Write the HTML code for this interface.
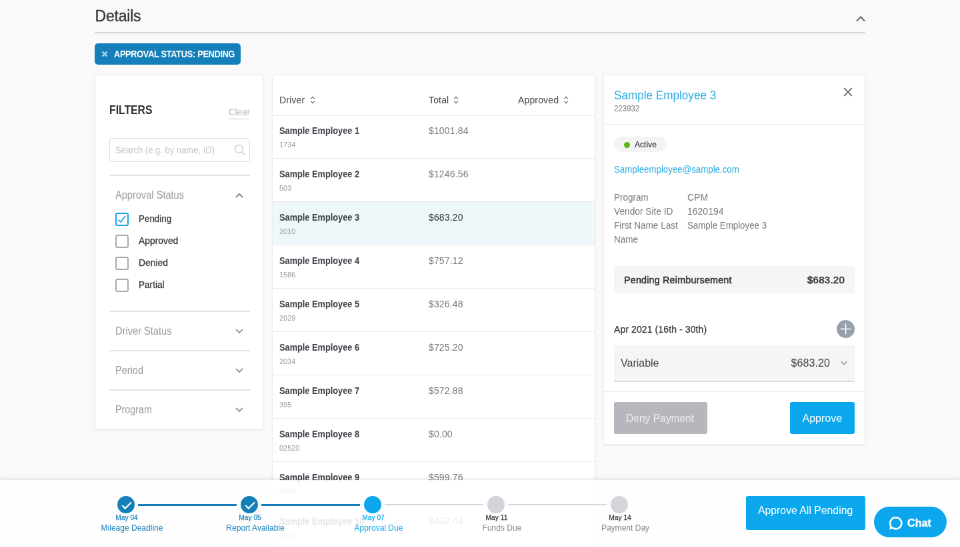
<!DOCTYPE html>
<html lang="en">
<head>
<meta charset="utf-8">
<title>Details</title>
<style>
*{box-sizing:border-box;margin:0;padding:0}
html,body{width:960px;height:547px;overflow:hidden;background:#f9f9f9}
body{font-family:"Liberation Sans",sans-serif;color:#333}
#root{position:absolute;left:0;top:0;width:1440px;height:821px;transform:scale(0.6666667);transform-origin:0 0;background:#f9f9f9;overflow:hidden;will-change:transform}
.abs{position:absolute}
.t{white-space:nowrap}
.rule{left:142px;top:47.5px;width:1156px;height:2.5px;background:#d6d6d6}
.chip{left:142px;top:65px;width:218.5px;height:32px;border-radius:5px;background:#157fba}
.panel{background:#fff;border:1px solid #ececec;border-radius:3px;box-shadow:0 1px 3px rgba(0,0,0,0.06)}
#filters{left:142px;top:112px;width:253px;height:532px}
.search{left:20.5px;top:94px;width:211px;height:36px;border:1px solid #ddd;border-radius:4px}
.sep{left:20.5px;width:211px;height:2px;background:#e3e3e3}
.cb{left:30px;width:20px;height:20px;border:2px solid #aaa;border-radius:3px;background:#fff}
.cb.on{border-color:#1da1f2}
#table{left:408px;top:112px;width:485px;height:720px;border-radius:3px 3px 0 0}
.row{left:0;width:483px;height:65px;border-top:1px solid #e8e8e8}
.row.sel{background:#eef8fb}
#detail{left:905px;top:112px;width:392.5px;height:555px}
.hr{left:0;width:391px;height:1px;background:#e8e8e8}
.pill{left:15px;top:92px;width:79px;height:23px;border-radius:12px;background:#f4f4f4}
.pill i{position:absolute;left:14.5px;top:7.5px;width:9px;height:9px;border-radius:50%;background:#5cb811}
.gbox{left:15px;width:361px;background:#f5f5f5}
.btn{border-radius:3px}
.tl-c{width:26px;height:26px;border-radius:50%;top:24.5px}
.tl-l{height:3px;top:36px}
#footer{left:0;top:719.5px;width:1440px;height:103px;background:rgba(255,255,255,0.86);box-shadow:0 -1px 6px rgba(0,0,0,0.12)}
</style>
</head>
<body>
<div id="root">
<div class="abs t " style="left:142.5px;top:9px;font-size:23px;line-height:30px;color:#333;letter-spacing:-0.2px;-webkit-text-stroke:0.3px #333;">Details</div>
<svg class="abs" style="left:1283px;top:22px" width="16" height="12" viewBox="0 0 16 12"><path d="M2 9.5 L8 3.5 L14 9.5" fill="none" stroke="#666" stroke-width="2"/></svg>
<div class="abs rule"></div>
<div class="abs chip"><svg class="abs" style="left:10px;top:11px" width="10" height="10" viewBox="0 0 10 10"><path d="M1.5 1.5 L8.5 8.5 M8.5 1.5 L1.5 8.5" stroke="#9ccbe6" stroke-width="2.6" fill="none"/></svg><div class="abs t " style="left:29px;top:0px;font-size:15px;line-height:32px;color:#fff;font-weight:bold;transform:scaleX(0.846);transform-origin:0 50%;letter-spacing:-0.3px;">APPROVAL STATUS: PENDING</div></div>
<div id="filters" class="abs panel"><div class="abs t " style="left:21px;top:40px;font-size:18px;line-height:24px;color:#333;font-weight:bold;transform:scaleX(0.876);transform-origin:0 50%;">FILTERS</div>
<div class="abs t " style="left:200px;top:46px;font-size:14px;line-height:18px;color:#bbb;transform:scaleX(0.953);transform-origin:0 50%;border-bottom:1px solid #ccc;height:20px;">Clear</div>
<div class="abs search"><div class="abs t " style="left:8px;top:0px;font-size:14.5px;line-height:34px;color:#c4c4c4;transform:scaleX(0.898);transform-origin:0 50%;">Search (e.g. by name, ID)</div><svg class="abs" style="left:186px;top:8px" width="18" height="18" viewBox="0 0 18 18"><circle cx="7.5" cy="7.5" r="6" fill="none" stroke="#ccc" stroke-width="1.4"/><path d="M12 12 L16.5 16.5" stroke="#ccc" stroke-width="1.6"/></svg></div>
<div class="abs sep" style="top:149px"></div>
<div class="abs t " style="left:30px;top:170px;font-size:16px;line-height:20px;color:#999;transform:scaleX(0.912);transform-origin:0 50%;">Approval Status</div>
<svg class="abs" style="left:209px;top:175px" width="14" height="10" viewBox="0 0 14 10"><path d="M2 8 L7 3 L12 8" fill="none" stroke="#888" stroke-width="2"/></svg>
<div class="abs cb on" style="top:206px"><svg width="16" height="16" viewBox="0 0 16 16"><path d="M2.8 8.4 L6.2 12.2 L13 2.8" fill="none" stroke="#1da1f2" stroke-width="1.7"/></svg></div>
<div class="abs t " style="left:65px;top:205px;font-size:14px;line-height:20px;color:#333;transform:scaleX(0.957);transform-origin:0 50%;-webkit-text-stroke:0.25px #333;">Pending</div>
<div class="abs cb" style="top:239px"></div>
<div class="abs t " style="left:65px;top:238px;font-size:14px;line-height:20px;color:#333;transform:scaleX(0.99);transform-origin:0 50%;-webkit-text-stroke:0.25px #333;">Approved</div>
<div class="abs cb" style="top:272px"></div>
<div class="abs t " style="left:65px;top:271px;font-size:14px;line-height:20px;color:#333;transform:scaleX(0.99);transform-origin:0 50%;-webkit-text-stroke:0.25px #333;">Denied</div>
<div class="abs cb" style="top:305px"></div>
<div class="abs t " style="left:65px;top:304px;font-size:14px;line-height:20px;color:#333;transform:scaleX(0.97);transform-origin:0 50%;-webkit-text-stroke:0.25px #333;">Partial</div>
<div class="abs sep" style="top:353px"></div>
<div class="abs t " style="left:30px;top:374px;font-size:16px;line-height:20px;color:#999;transform:scaleX(0.914);transform-origin:0 50%;">Driver Status</div>
<svg class="abs" style="left:209px;top:379px" width="14" height="10" viewBox="0 0 14 10"><path d="M2 2 L7 7 L12 2" fill="none" stroke="#999" stroke-width="2"/></svg>
<div class="abs sep" style="top:412px"></div>
<div class="abs t " style="left:30px;top:433px;font-size:16px;line-height:20px;color:#999;transform:scaleX(0.909);transform-origin:0 50%;">Period</div>
<svg class="abs" style="left:209px;top:438px" width="14" height="10" viewBox="0 0 14 10"><path d="M2 2 L7 7 L12 2" fill="none" stroke="#999" stroke-width="2"/></svg>
<div class="abs sep" style="top:471px"></div>
<div class="abs t " style="left:30px;top:492px;font-size:16px;line-height:20px;color:#999;transform:scaleX(0.893);transform-origin:0 50%;">Program</div>
<svg class="abs" style="left:209px;top:497px" width="14" height="10" viewBox="0 0 14 10"><path d="M2 2 L7 7 L12 2" fill="none" stroke="#999" stroke-width="2"/></svg></div>
<div id="table" class="abs panel"><div class="abs t " style="left:10px;top:27px;font-size:14px;line-height:20px;color:#444;letter-spacing:0.15px;">Driver</div>
<svg class="abs" style="left:55.5px;top:30.5px" width="8" height="12" viewBox="0 0 8 12"><path d="M1.2 4.2 L4 1.4 L6.8 4.2 M1.2 7.8 L4 10.6 L6.8 7.8" fill="none" stroke="#888" stroke-width="1.5"/></svg>
<div class="abs t " style="left:234px;top:27px;font-size:14px;line-height:20px;color:#444;letter-spacing:0.15px;">Total</div>
<svg class="abs" style="left:271px;top:30.5px" width="8" height="12" viewBox="0 0 8 12"><path d="M1.2 4.2 L4 1.4 L6.8 4.2 M1.2 7.8 L4 10.6 L6.8 7.8" fill="none" stroke="#888" stroke-width="1.5"/></svg>
<div class="abs t " style="left:368px;top:27px;font-size:14px;line-height:20px;color:#444;letter-spacing:0.15px;">Approved</div>
<svg class="abs" style="left:436px;top:30.5px" width="8" height="12" viewBox="0 0 8 12"><path d="M1.2 4.2 L4 1.4 L6.8 4.2 M1.2 7.8 L4 10.6 L6.8 7.8" fill="none" stroke="#888" stroke-width="1.5"/></svg>
<div class="abs row" style="top:59.50px"><div class="abs t " style="left:10px;top:13.5px;font-size:14px;line-height:18px;color:#3a3f45;font-weight:bold;transform:scaleX(0.913);transform-origin:0 50%;">Sample Employee 1</div><div class="abs t " style="left:10px;top:36.0px;font-size:11px;line-height:14px;color:#999;">1734</div><div class="abs t " style="left:234px;top:13.0px;font-size:14px;line-height:18px;color:#777;letter-spacing:0.15px;">$1001.84</div></div>
<div class="abs row" style="top:124.42px"><div class="abs t " style="left:10px;top:13.64px;font-size:14px;line-height:18px;color:#3a3f45;font-weight:bold;transform:scaleX(0.913);transform-origin:0 50%;">Sample Employee 2</div><div class="abs t " style="left:10px;top:36.14px;font-size:11px;line-height:14px;color:#999;">503</div><div class="abs t " style="left:234px;top:13.14px;font-size:14px;line-height:18px;color:#777;letter-spacing:0.15px;">$1246.56</div></div>
<div class="abs row sel" style="top:189.34px"><div class="abs t " style="left:10px;top:13.78px;font-size:14px;line-height:18px;color:#3a3f45;font-weight:bold;transform:scaleX(0.913);transform-origin:0 50%;">Sample Employee 3</div><div class="abs t " style="left:10px;top:36.28px;font-size:11px;line-height:14px;color:#999;">2010</div><div class="abs t " style="left:234px;top:13.28px;font-size:14px;line-height:18px;color:#333;letter-spacing:0.15px;">$683.20</div></div>
<div class="abs row" style="top:254.26px"><div class="abs t " style="left:10px;top:13.92px;font-size:14px;line-height:18px;color:#3a3f45;font-weight:bold;transform:scaleX(0.913);transform-origin:0 50%;">Sample Employee 4</div><div class="abs t " style="left:10px;top:36.42px;font-size:11px;line-height:14px;color:#999;">1586</div><div class="abs t " style="left:234px;top:13.42px;font-size:14px;line-height:18px;color:#777;letter-spacing:0.15px;">$757.12</div></div>
<div class="abs row" style="top:319.18px"><div class="abs t " style="left:10px;top:14.06px;font-size:14px;line-height:18px;color:#3a3f45;font-weight:bold;transform:scaleX(0.913);transform-origin:0 50%;">Sample Employee 5</div><div class="abs t " style="left:10px;top:36.56px;font-size:11px;line-height:14px;color:#999;">2029</div><div class="abs t " style="left:234px;top:13.56px;font-size:14px;line-height:18px;color:#777;letter-spacing:0.15px;">$326.48</div></div>
<div class="abs row" style="top:384.10px"><div class="abs t " style="left:10px;top:14.2px;font-size:14px;line-height:18px;color:#3a3f45;font-weight:bold;transform:scaleX(0.913);transform-origin:0 50%;">Sample Employee 6</div><div class="abs t " style="left:10px;top:36.7px;font-size:11px;line-height:14px;color:#999;">2034</div><div class="abs t " style="left:234px;top:13.7px;font-size:14px;line-height:18px;color:#777;letter-spacing:0.15px;">$725.20</div></div>
<div class="abs row" style="top:449.02px"><div class="abs t " style="left:10px;top:14.34px;font-size:14px;line-height:18px;color:#3a3f45;font-weight:bold;transform:scaleX(0.913);transform-origin:0 50%;">Sample Employee 7</div><div class="abs t " style="left:10px;top:36.84px;font-size:11px;line-height:14px;color:#999;">395</div><div class="abs t " style="left:234px;top:13.84px;font-size:14px;line-height:18px;color:#777;letter-spacing:0.15px;">$572.88</div></div>
<div class="abs row" style="top:513.94px"><div class="abs t " style="left:10px;top:14.48px;font-size:14px;line-height:18px;color:#3a3f45;font-weight:bold;transform:scaleX(0.913);transform-origin:0 50%;">Sample Employee 8</div><div class="abs t " style="left:10px;top:36.98px;font-size:11px;line-height:14px;color:#999;">02520</div><div class="abs t " style="left:234px;top:13.98px;font-size:14px;line-height:18px;color:#777;letter-spacing:0.15px;">$0.00</div></div>
<div class="abs row" style="top:578.86px"><div class="abs t " style="left:10px;top:14.62px;font-size:14px;line-height:18px;color:#3a3f45;font-weight:bold;transform:scaleX(0.913);transform-origin:0 50%;">Sample Employee 9</div><div class="abs t " style="left:10px;top:37.12px;font-size:11px;line-height:14px;color:#999;">4090</div><div class="abs t " style="left:234px;top:14.12px;font-size:14px;line-height:18px;color:#777;letter-spacing:0.15px;">$599.76</div></div>
<div class="abs row" style="top:643.78px"><div class="abs t " style="left:10px;top:14.76px;font-size:14px;line-height:18px;color:#3a3f45;font-weight:bold;transform:scaleX(0.913);transform-origin:0 50%;">Sample Employee 10</div><div class="abs t " style="left:10px;top:37.26px;font-size:11px;line-height:14px;color:#999;">8000</div><div class="abs t " style="left:234px;top:14.26px;font-size:14px;line-height:18px;color:#777;letter-spacing:0.15px;">$402.64</div></div></div>
<div id="detail" class="abs panel"><div class="abs t " style="left:15px;top:17.5px;font-size:18px;line-height:24px;color:#29abe2;transform:scaleX(0.951);transform-origin:0 50%;">Sample Employee 3</div>
<div class="abs t " style="left:15px;top:41.5px;font-size:12px;line-height:16px;color:#777;transform:scaleX(0.951);transform-origin:0 50%;">223932</div>
<svg class="abs" style="left:359px;top:18px" width="14" height="14" viewBox="0 0 14 14"><path d="M1.2 1.2 L12.8 12.8 M12.8 1.2 L1.2 12.8" stroke="#5f6673" stroke-width="1.8" fill="none"/></svg>
<div class="abs hr" style="top:73px"></div>
<div class="abs pill"><i></i><div class="abs t " style="left:31px;top:3px;font-size:13px;line-height:17px;color:#333;transform:scaleX(0.928);transform-origin:0 50%;-webkit-text-stroke:0.2px #333;">Active</div></div>
<div class="abs t " style="left:15px;top:131px;font-size:14px;line-height:20px;color:#29abe2;transform:scaleX(0.949);transform-origin:0 50%;">Sampleemployee@sample.com</div>
<div class="abs t " style="left:15px;top:173px;font-size:14px;line-height:21px;color:#777;transform:scaleX(0.961);transform-origin:0 50%;">Program</div>
<div class="abs t " style="left:125px;top:173px;font-size:14px;line-height:21px;color:#777;">CPM</div>
<div class="abs t " style="left:15px;top:194px;font-size:14px;line-height:21px;color:#777;transform:scaleX(0.98);transform-origin:0 50%;">Vendor Site ID</div>
<div class="abs t " style="left:125px;top:194px;font-size:14px;line-height:21px;color:#777;">1620194</div>
<div class="abs t " style="left:15px;top:215px;font-size:14px;line-height:21px;color:#777;transform:scaleX(0.97);transform-origin:0 50%;">First Name Last</div>
<div class="abs t " style="left:125px;top:215px;font-size:14px;line-height:21px;color:#777;transform:scaleX(0.95);transform-origin:0 50%;">Sample Employee 3</div>
<div class="abs t " style="left:15px;top:236px;font-size:14px;line-height:21px;color:#777;transform:scaleX(0.965);transform-origin:0 50%;">Name</div>
<div class="abs gbox" style="top:286px;height:41px"><div class="abs t " style="left:15px;top:11px;font-size:15px;line-height:20px;color:#333;transform:scaleX(0.955);transform-origin:0 50%;-webkit-text-stroke:0.55px #333;letter-spacing:0.2px;">Pending Reimbursement</div><div class="abs t" style="right:15px;top:11px;font-size:15px;line-height:20px;color:#333;-webkit-text-stroke:0.55px #333;letter-spacing:0.25px">$683.20</div></div>
<div class="abs t " style="left:15px;top:371px;font-size:14px;line-height:20px;color:#333;letter-spacing:0.1px;-webkit-text-stroke:0.25px #333;">Apr 2021 (16th - 30th)</div>
<div class="abs" style="left:349px;top:367px;width:27px;height:27px;border-radius:50%;background:#9a9fb0"><svg width="27" height="27" viewBox="0 0 27 27"><path d="M13.5 5.5 V21.5 M5.5 13.5 H21.5" stroke="#fff" stroke-width="1.6"/></svg></div>
<div class="abs gbox" style="top:405px;height:55px;border-bottom:2px solid #ddd"><div class="abs t " style="left:10px;top:16px;font-size:16px;line-height:22px;color:#444;">Variable</div><div class="abs t" style="right:37px;top:16px;font-size:16px;line-height:22px;color:#444;letter-spacing:0.1px">$683.20</div><svg class="abs" style="left:339px;top:22px" width="12" height="9" viewBox="0 0 12 9"><path d="M1.5 2 L6 6.5 L10.5 2" fill="none" stroke="#999" stroke-width="1.6"/></svg></div>
<div class="abs hr" style="top:474px"></div>
<div class="abs btn" style="left:15px;top:490px;width:140px;height:48px;background:#b5b7bd"><div class="abs t " style="left:17.5px;top:1px;font-size:16px;line-height:48px;color:#eee;transform:scaleX(0.973);transform-origin:0 50%;">Deny Payment</div></div>
<div class="abs btn" style="left:279px;top:490px;width:97px;height:48px;background:#0ba8ee"><div class="abs t " style="left:18.5px;top:1px;font-size:16px;line-height:48px;color:#fff;">Approve</div></div></div>
<div id="footer" class="abs"><div class="abs tl-c" style="left:176px;background:#157fba"><svg width="26" height="26" viewBox="0 0 26 26"><path d="M7.2 14 L11.8 18.6 L21 9.6" fill="none" stroke="#fff" stroke-width="2.1"/></svg></div><div class="abs tl-l" style="left:207px;width:148px;background:#157fba;"></div><div class="abs t" style="left:150px;top:49.5px;width:80px;text-align:center;font-size:11px;line-height:14px;color:#157fba;-webkit-text-stroke:0.25px #157fba;transform:scaleX(0.93)">May 04</div><div class="abs t" style="left:128px;top:63px;width:140px;text-align:center;font-size:13px;line-height:18px;color:#157fba;transform:scaleX(0.925)">Mileage Deadline</div>
<div class="abs tl-c" style="left:361px;background:#157fba"><svg width="26" height="26" viewBox="0 0 26 26"><path d="M7.2 14 L11.8 18.6 L21 9.6" fill="none" stroke="#fff" stroke-width="2.1"/></svg></div><div class="abs tl-l" style="left:392px;width:148px;background:#157fba;"></div><div class="abs t" style="left:335px;top:49.5px;width:80px;text-align:center;font-size:11px;line-height:14px;color:#157fba;-webkit-text-stroke:0.25px #157fba;transform:scaleX(0.93)">May 05</div><div class="abs t" style="left:313px;top:63px;width:140px;text-align:center;font-size:13px;line-height:18px;color:#157fba;transform:scaleX(0.925)">Report Available</div>
<div class="abs tl-c" style="left:546px;background:#0ba6ec"></div><div class="abs tl-l" style="left:577px;width:148px;background:#d6d7dc;height:2px;top:36.5px;"></div><div class="abs t" style="left:520px;top:49.5px;width:80px;text-align:center;font-size:11px;line-height:14px;color:#0ba6ec;-webkit-text-stroke:0.25px #0ba6ec;transform:scaleX(0.93)">May 07</div><div class="abs t" style="left:498px;top:63px;width:140px;text-align:center;font-size:13px;line-height:18px;color:#0ba6ec;transform:scaleX(0.925)">Approval Due</div>
<div class="abs tl-c" style="left:731px;background:#d3d5db"></div><div class="abs tl-l" style="left:762px;width:148px;background:#d6d7dc;height:2px;top:36.5px;"></div><div class="abs t" style="left:705px;top:49.5px;width:80px;text-align:center;font-size:11px;line-height:14px;color:#333;-webkit-text-stroke:0.25px #333;transform:scaleX(0.93)">May 11</div><div class="abs t" style="left:683px;top:63px;width:140px;text-align:center;font-size:13px;line-height:18px;color:#888;transform:scaleX(0.925)">Funds Due</div>
<div class="abs tl-c" style="left:916px;background:#d3d5db"></div><div class="abs t" style="left:890px;top:49.5px;width:80px;text-align:center;font-size:11px;line-height:14px;color:#333;-webkit-text-stroke:0.25px #333;transform:scaleX(0.93)">May 14</div><div class="abs t" style="left:868px;top:63px;width:140px;text-align:center;font-size:13px;line-height:18px;color:#888;transform:scaleX(0.925)">Payment Day</div>
<div class="abs btn" style="left:1119px;top:24.5px;width:179px;height:51px;background:#0ba8ee"><div class="abs t " style="left:18px;top:-1px;font-size:16px;line-height:45px;color:#fff;transform:scaleX(0.987);transform-origin:0 50%;">Approve All Pending</div></div></div>
<div class="abs" style="left:1311px;top:760px;width:109px;height:46px;border-radius:23px;background:#0ba6ec"><svg class="abs" style="left:20.5px;top:12.5px" width="23.5" height="23.5" viewBox="0 0 22 22"><path d="M11 3 A8 8 0 1 1 6.2 17.4 L3.2 18.6 L4.4 15.6 A8 8 0 0 1 11 3 Z" fill="none" stroke="#fff" stroke-width="2.4" stroke-linejoin="round"/></svg><div class="abs t " style="left:50px;top:14px;font-size:16px;line-height:22px;color:#fff;font-weight:bold;letter-spacing:0.1px;-webkit-text-stroke:0.4px #fff;">Chat</div></div>
</div>
</body>
</html>
